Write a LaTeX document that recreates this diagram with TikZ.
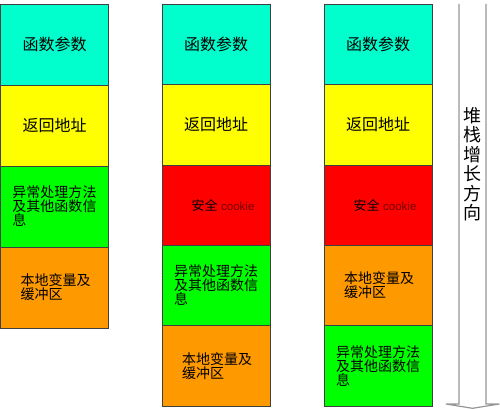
\documentclass[tikz,border=0pt]{standalone}
\usepackage{fontspec}
\newfontfamily\cjk{Noto Sans CJK SC}
\newfontfamily\arial{Liberation Sans}
\usetikzlibrary{positioning}
\definecolor{argcol}{RGB}{0,255,204}
\definecolor{retcol}{RGB}{255,255,0}
\definecolor{ckcol}{RGB}{255,0,0}
\definecolor{ehcol}{RGB}{0,255,0}
\definecolor{bufcol}{RGB}{255,153,0}
\definecolor{ckword}{RGB}{115,0,0}
\definecolor{edgecol}{RGB}{64,64,64}
\definecolor{arrowcol}{RGB}{150,150,150}
\tikzset{
  seg/.style={draw=edgecol, minimum width=108pt, minimum height=#1,
    inner sep=0pt, outer sep=0pt, font=\cjk\fontsize{16}{16}\selectfont},
  seg/.default=81pt,
  ehtext/.style={align=left, text width=84pt, inner xsep=12pt,
    font=\cjk\fontsize{14}{12.7}\selectfont},
  buftext/.style={align=left, text width=68pt, inner xsep=20pt,
    font=\cjk\fontsize{14}{12.7}\selectfont},
  growline/.style={draw=arrowcol, line width=1.2pt, fill=white}
}
\newcommand*{\cookietext}{\hspace*{14pt}{\cjk\fontsize{13}{13}\selectfont 安全}
  {\arial\fontsize{11.5}{11.5}\selectfont\color{ckword}cookie}}

\begin{document}
\begin{tikzpicture}[x=1pt,y=-1pt]
\useasboundingbox (0,0) rectangle (500,409);
% First column: no cookie
\coordinate (top1) at (54.5,4);
\node[seg, fill=argcol, below=0pt of top1] (arg1) {函数参数};
\node[seg, fill=retcol, below=0pt of arg1] (ret1) {返回地址};
\node[seg, fill=ehcol, ehtext, below=0pt of ret1] (eh1) {异常处理方法\\及其他函数信\\息};
\node[seg, fill=bufcol, buftext, below=0pt of eh1] (buf1) {本地变量及\\缓冲区};

% Second column: cookie above exception info
\coordinate (top2) at (216,4);
\node[seg=80.4pt, fill=argcol, below=0pt of top2] (arg2) {函数参数};
\node[seg=80.4pt, fill=retcol, below=0pt of arg2] (ret2) {返回地址};
\node[seg=80.4pt, fill=ckcol, below=0pt of ret2] (ck2) {\cookietext};
\node[seg=80.4pt, fill=ehcol, ehtext, below=0pt of ck2] (eh2) {异常处理方法\\及其他函数信\\息};
\node[seg=80.4pt, fill=bufcol, buftext, below=0pt of eh2] (buf2) {本地变量及\\缓冲区};

% Third column: exception info moved below the buffer
\coordinate (top3) at (378,4);
\node[seg=80.4pt, fill=argcol, below=0pt of top3] (arg3) {函数参数};
\node[seg=80.4pt, fill=retcol, below=0pt of arg3] (ret3) {返回地址};
\node[seg=80.4pt, fill=ckcol, below=0pt of ret3] (ck3) {\cookietext};
\node[seg=80.4pt, fill=bufcol, buftext, below=0pt of ck3] (buf3) {本地变量及\\缓冲区};
\node[seg=80.4pt, fill=ehcol, ehtext, below=0pt of buf3] (eh3) {异常处理方法\\及其他函数信\\息};

% Growth direction arrow
\coordinate (shaftL) at (459,4);
\coordinate (shaftR) at (486,4);
\coordinate (tip) at (472.5,408.3);
\draw [growline] (shaftL) -- (459,404) -- (446,404) -- (tip)
   -- (499.4,404) -- (486,404) -- (shaftR);
\node[align=center, font=\cjk\fontsize{18}{19.5}\selectfont] (grow) at (472.5,164)
   {堆\\栈\\增\\长\\方\\向};
\end{tikzpicture}
\end{document}
